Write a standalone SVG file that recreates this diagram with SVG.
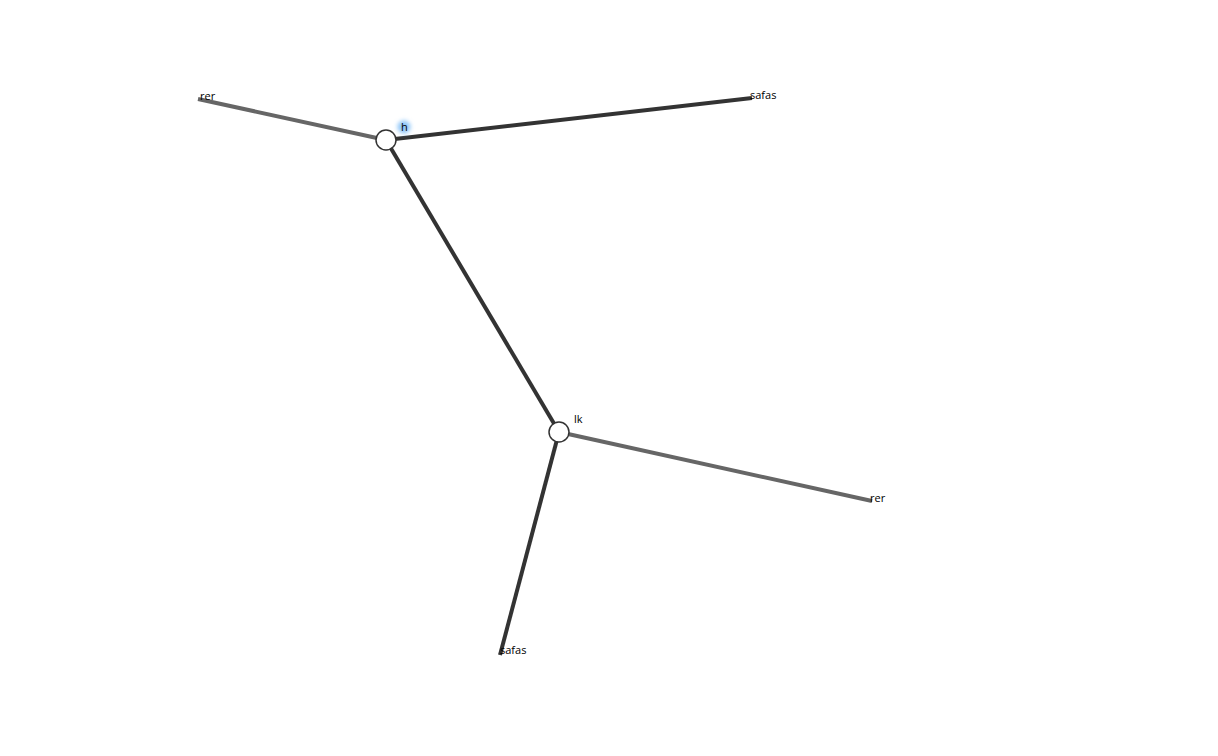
<svg xmlns="http://www.w3.org/2000/svg" width="1218" height="756" viewBox="0 0 1218 756">
<style>
.link{fill:none;stroke-width:4;stroke-linecap:butt}
.dark{stroke:#333}
.gray{stroke:#666}
.node .dot{fill:#fff;stroke:#333;stroke-width:1.5}
.halo{fill:#8cc4f8;stroke:none}
text{font-family:"Segoe UI","Open Sans","Liberation Sans",sans-serif;font-size:11px;fill:#000}
</style>
<defs>
<filter id="glow" x="-1" y="-1" width="3" height="3">
<feGaussianBlur stdDeviation="2"/>
</filter>
</defs>
<rect width="1218" height="756" fill="#fff"/>
<g id="connectors">
<line class="link gray" x1="386" y1="140" x2="198" y2="99"/>
<line class="link dark" x1="386" y1="140" x2="752" y2="98"/>
<line class="link dark" x1="386" y1="140" x2="559" y2="432"/>
<line class="link gray" x1="559" y1="432" x2="872" y2="501"/>
<line class="link dark" x1="559" y1="432" x2="500" y2="655"/>
</g>
<g id="node-h" class="node">
<circle class="dot" cx="386" cy="140" r="10"/>
<circle class="halo" cx="404" cy="127" r="6.5" filter="url(#glow)"/>
<text x="401" y="131">h</text>
</g>
<g id="node-lk" class="node">
<circle class="dot" cx="559" cy="432" r="10"/>
<text x="574" y="423">lk</text>
</g>
<g id="leaf-rer-1"><text x="200" y="100">rer</text></g>
<g id="leaf-safas-1"><text x="750" y="99">safas</text></g>
<g id="leaf-rer-2"><text x="870" y="502">rer</text></g>
<g id="leaf-safas-2"><text x="500" y="654">safas</text></g>
</svg>
